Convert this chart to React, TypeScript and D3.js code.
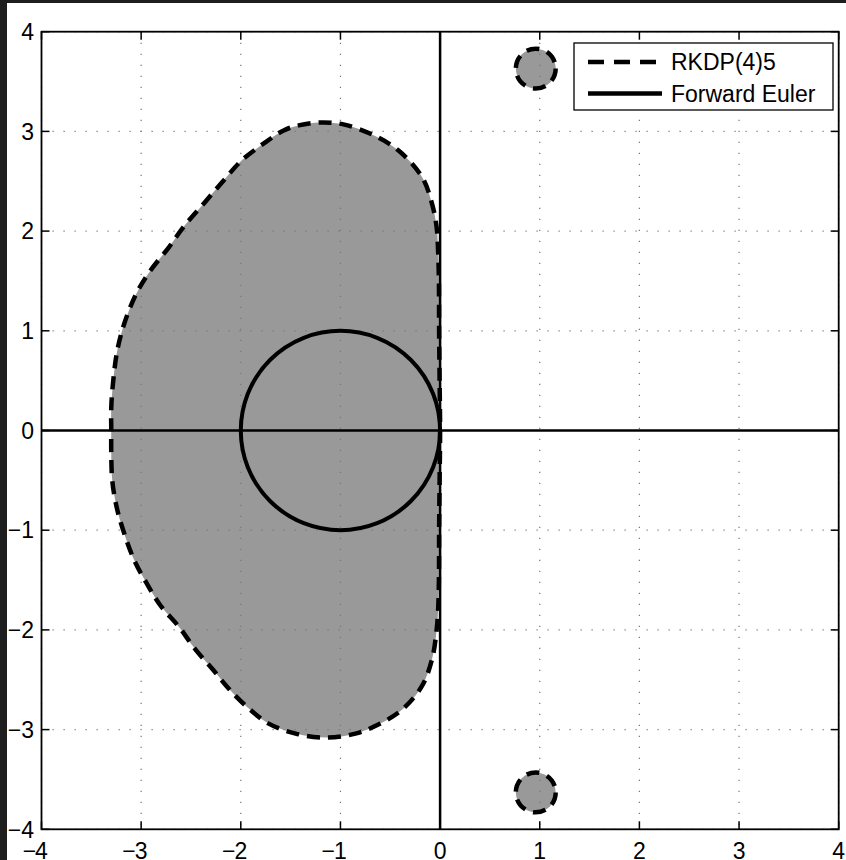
import React from 'react';
import * as d3 from 'd3';

// ---- data ----
const xTicks = [-4, -3, -2, -1, 0, 1, 2, 3, 4];
const yTicks = [-4, -3, -2, -1, 0, 1, 2, 3, 4];

// RKDP(4)5 stability boundary, counter-clockwise from origin
const rkdpRe = [
  0, -0.005, -0.01, -0.012, -0.02, -0.035, -0.08, -0.18, -0.42, -0.685, -0.97, -1.2, -1.42, -1.57,
  -1.754, -1.99, -2.17, -2.36, -2.56, -2.72, -2.91, -3.05, -3.17, -3.24, -3.28, -3.3, -3.3,
  -3.3, -3.29, -3.25, -3.19, -3.07, -2.94, -2.81, -2.62, -2.46, -2.27, -2.12, -1.94, -1.72,
  -1.45, -1.14, -0.85, -0.6, -0.37, -0.18, -0.08, -0.035, -0.02, -0.012, -0.01, -0.005,
];
const rkdpIm = [
  0, 0.5, 1.0, 1.5, 1.8, 2.04, 2.27, 2.54, 2.81, 2.97, 3.07, 3.09, 3.06, 3.01,
  2.89, 2.71, 2.51, 2.29, 2.06, 1.84, 1.6, 1.37, 1.07, 0.8, 0.5, 0.23, 0,
  -0.23, -0.5, -0.75, -0.97, -1.3, -1.54, -1.75, -1.97, -2.19, -2.41, -2.59, -2.77, -2.94,
  -3.04, -3.08, -3.04, -2.94, -2.79, -2.56, -2.29, -2.0, -1.8, -1.5, -1.0, -0.5,
];

// small stable islands
const bubbleRe = [0.96, 0.96];
const bubbleIm = [3.63, -3.63];
const bubbleR = [0.2, 0.2];

// forward Euler disc
const eulerCenterRe = -1;
const eulerCenterIm = 0;
const eulerRadius = 1;

const legendLabels = ['RKDP(4)5', 'Forward Euler'];

// ---- layout ----
const W = 846;
const H = 860;
const left = 41.5;
const right = 838.7;
const top = 31.7;
const bottom = 829.3;
const FONT = '"Liberation Sans", Arial, Helvetica, sans-serif';
const FS = 23;
const FILL = '#999999';
const DASH = '13 8';

export default function App() {
  const x = d3.scaleLinear().domain([-4, 4]).range([left, right]);
  const y = d3.scaleLinear().domain([-4, 4]).range([bottom, top]);

  const pts: [number, number][] = rkdpRe.map((r, i) => [x(r), y(rkdpIm[i])]);
  const regionPath = d3.line().curve(d3.curveCatmullRomClosed.alpha(0.5))(pts) || '';

  const unit = x(1) - x(0);
  const unitY = y(0) - y(1);
  const halfDigit = FS * 0.278;

  return (
    <svg
      width={W}
      height={H}
      style={{ position: 'fixed', left: 0, top: 0, display: 'block' }}
      fontFamily={FONT}
    >
      <rect x={0} y={0} width={W} height={H} fill="#1e1e1e" />
      <rect x={7} y={3} width={W - 7} height={H - 3} fill="#ffffff" />
      <rect x={left} y={top} width={right - left} height={bottom - top} fill="#ffffff" />

      {/* stability region fill */}
      <path d={regionPath} fill={FILL} stroke="none" />
      {bubbleRe.map((r, i) => (
        <ellipse
          key={'bf' + i}
          cx={x(r)}
          cy={y(bubbleIm[i])}
          rx={bubbleR[i] * unit}
          ry={bubbleR[i] * unitY}
          fill={FILL}
        />
      ))}

      {/* grid */}
      {xTicks.map((t) => (
        <line
          key={'gx' + t}
          x1={x(t)}
          x2={x(t)}
          y1={top}
          y2={bottom}
          stroke="#777"
          strokeWidth={1.2}
          strokeDasharray="1.2 9.8"
        />
      ))}
      {yTicks.map((t) => (
        <line
          key={'gy' + t}
          x1={left}
          x2={right}
          y1={y(t)}
          y2={y(t)}
          stroke="#777"
          strokeWidth={1.2}
          strokeDasharray="1.2 9.8"
        />
      ))}

      {/* axes through origin */}
      <line x1={left} x2={right} y1={y(0)} y2={y(0)} stroke="#000" strokeWidth={2.5} />
      <line x1={x(0)} x2={x(0)} y1={top} y2={bottom} stroke="#000" strokeWidth={2.5} />

      {/* forward Euler */}
      <ellipse
        cx={x(eulerCenterRe)}
        cy={y(eulerCenterIm)}
        rx={eulerRadius * unit}
        ry={eulerRadius * unitY}
        fill="none"
        stroke="#000"
        strokeWidth={4}
      />

      {/* RKDP boundary */}
      <path d={regionPath} fill="none" stroke="#000" strokeWidth={4.5} strokeDasharray={DASH} />
      {bubbleRe.map((r, i) => (
        <ellipse
          key={'bs' + i}
          cx={x(r)}
          cy={y(bubbleIm[i])}
          rx={bubbleR[i] * unit}
          ry={bubbleR[i] * unitY}
          fill="none"
          stroke="#000"
          strokeWidth={4.5}
          strokeDasharray={DASH}
        />
      ))}

      {/* frame */}
      <rect
        x={left}
        y={top}
        width={right - left}
        height={bottom - top}
        fill="none"
        stroke="#000"
        strokeWidth={1.8}
      />

      {/* ticks */}
      {xTicks.map((t) => (
        <g key={'tx' + t}>
          <line x1={x(t)} x2={x(t)} y1={bottom} y2={bottom - 8} stroke="#000" strokeWidth={1.5} />
          <line x1={x(t)} x2={x(t)} y1={top} y2={top + 8} stroke="#000" strokeWidth={1.5} />
        </g>
      ))}
      {yTicks.map((t) => (
        <g key={'ty' + t}>
          <line x1={left} x2={left + 8} y1={y(t)} y2={y(t)} stroke="#000" strokeWidth={1.5} />
          <line x1={right} x2={right - 8} y1={y(t)} y2={y(t)} stroke="#000" strokeWidth={1.5} />
        </g>
      ))}

      {/* x tick labels */}
      {xTicks.map((t) => (
        <g key={'lx' + t} fontSize={FS} fill="#000">
          <text x={x(t)} y={859} textAnchor="middle">
            {String(Math.abs(t))}
          </text>
          {t < 0 && (
            <text x={x(t) - halfDigit + 1} y={859} textAnchor="end">
              {'\u2212'}
            </text>
          )}
        </g>
      ))}

      {/* y tick labels */}
      {yTicks.map((t) => (
        <text
          key={'ly' + t}
          x={34}
          y={y(t) + FS * 0.36}
          textAnchor="end"
          fontSize={FS}
          fill="#000"
        >
          {t < 0 ? '\u2212' + Math.abs(t) : String(t)}
        </text>
      ))}

      {/* legend */}
      <rect x={574} y={43} width={259} height={67} fill="#fff" stroke="#000" strokeWidth={1.3} />
      <line x1={588} x2={662} y1={62} y2={62} stroke="#000" strokeWidth={4.5} strokeDasharray="16 10" />
      <line x1={588} x2={662} y1={93.5} y2={93.5} stroke="#000" strokeWidth={4.5} />
      <text x={671} y={62 + FS * 0.36} fontSize={FS} fill="#000">
        {legendLabels[0]}
      </text>
      <text x={671} y={93.5 + FS * 0.36} fontSize={FS} fill="#000">
        {legendLabels[1]}
      </text>
    </svg>
  );
}
